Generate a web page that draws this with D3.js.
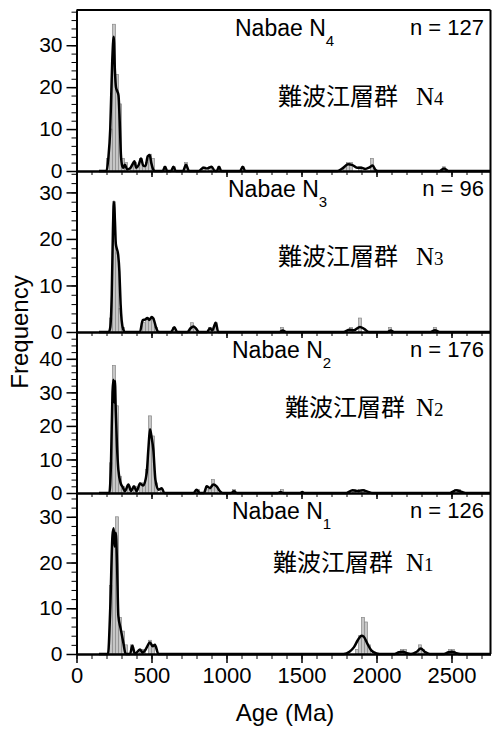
<!DOCTYPE html>
<html>
  <head>
    <meta charset="utf-8">
    <title>Nabae detrital zircon ages</title>
    <script src="https://d3js.org/d3.v7.min.js"></script>
    <style>
      body { margin: 0; background: #fff; }
      text { font-family: "Liberation Sans", Arial, sans-serif; fill: #000; }
      .cjk { font-family: "Noto Sans CJK JP", sans-serif; }
      .serif { font-family: "Liberation Serif", "Times New Roman", serif; }
    </style>
  </head>
  <body>
    <div id="chart"></div>
    <script>
    // ---- data ----
    const subscripts = ["4", "3", "2", "1"];
    const nValues = [127, 96, 176, 126];
    const yMaxes = [38.4, 34.6, 48, 35.2];
    const yTickValues = [[0, 10, 20, 30], [0, 10, 20, 30], [0, 10, 20, 30, 40], [0, 10, 20, 30]];
    const xTickValues = [0, 500, 1000, 1500, 2000, 2500];
    const binWidth = 20;

    // histogram bins: [bin start (Ma), count]
    const histN4 = [[200,3],[220,10],[240,35],[260,23],[280,16],[300,3],[320,2],[360,1],[380,2],[400,1],
      [420,3],[440,1],[460,2],[480,4],[500,3],[580,1],[640,1],[720,2],[840,1],[880,1],[940,1],[1100,1],
      [1780,1],[1800,2],[1820,2],[1880,1],[1960,3],[2440,1]];
    const histN3 = [[220,3],[240,28],[260,17],[280,5],[300,1],[440,2],[460,3],[480,3],[500,3],[520,1],
      [640,1],[760,2],[780,1],[880,1],[920,2],[1360,1],[1820,1],[1880,3],[2080,1],[2380,1]];
    const histN2 = [[220,9],[240,38],[260,26],[280,5],[300,2],[340,2],[380,2],[420,3],[440,3],[460,7],
      [480,23],[500,17],[520,3],[560,1],[800,1],[860,2],[880,1],[900,4],[920,2],[1040,1],[1360,1],
      [1840,1],[1880,1],[1900,1],[2520,1],[2540,1]];
    const histN1 = [[220,15],[240,27],[260,30],[280,8],[300,5],[320,2],[360,2],[420,1],[440,1],[480,3],
      [500,2],[1860,1],[1880,4],[1900,8],[1920,7],[1940,2],[2160,1],[2180,1],[2280,2],[2300,1],
      [2480,1],[2500,1]];

    // probability density curves: [age (Ma), value]
    const curveN4 = [[150,0],[200,0],[212,3],[225,10],[238,26],[248,32],[256,24],[263,20],[272,19],[280,18],
      [288,12],[296,4],[305,1.2],[313,0.8],[323,1.5],[338,0.4],[355,0.6],[372,1.5],[386,2.3],[398,0.8],
      [415,1.5],[430,3],[445,1.3],[460,1.2],[475,3.5],[488,3.8],[498,2],[510,0.5],[523,0],[575,0],
      [590,1],[605,0],[630,0],[646,1],[662,0],[710,0],[730,1.5],[750,0],[815,0],[846,0.8],[870,0.6],
      [901,1],[920,0.1],[935,0],[950,1],[965,0],[1090,0],[1108,1],[1125,0],[1740,0],[1780,0.8],
      [1810,1.6],[1840,1.4],[1870,0.8],[1900,0.8],[1925,0.5],[1950,0.8],[1975,1.3],[1992,0.3],[2010,0],
      [2420,0],[2450,0.6],[2480,0],[2760,0]];
    const curveN3 = [[150,0],[215,0],[225,1],[235,8],[243,22],[250,28],[256,24],[262,19],[268,18],[278,16.5],
      [286,13],[294,6],[301,2.5],[312,0.5],[323,0],[423,0],[441,2.5],[459,2.7],[472,3],[486,2.6],
      [501,3.2],[517,2.5],[530,1],[546,0],[630,0],[652,1],[672,0],[740,0],[760,0.8],[780,1.2],[800,0.6],
      [815,0],[870,0],[890,0.8],[905,0.3],[928,2],[945,0],[1350,0],[1375,0.3],[1400,0],[1780,0],
      [1820,0.5],[1850,0.4],[1890,1.1],[1920,0.6],[1950,0],[2070,0],[2095,0.3],[2120,0],[2360,0],
      [2390,0.4],[2420,0],[2760,0]];
    const curveN2 = [[150,0],[219,0],[230,9],[240,30],[246,33.8],[251,27],[256,33.5],[262,24],[270,14],[279,7],
      [294,3],[308,1.8],[323,0.5],[346,2.5],[363,0.6],[383,2],[401,0.5],[423,2.8],[445,2.2],[468,6],
      [479,13],[490,19],[501,16.5],[512,13],[526,4],[546,1],[568,1.4],[586,0],[780,0],[800,1],[823,0],
      [850,0],[868,2],[890,1.5],[912,2.5],[934,2],[957,0.5],[975,0],[1030,0],[1050,0.5],[1070,0],
      [1340,0],[1360,0.3],[1380,0],[1490,0],[1505,0.3],[1520,0],[1800,0],[1840,0.8],[1880,0.6],
      [1910,0.8],[1940,0.4],[1970,0],[2490,0],[2530,0.8],[2570,0.3],[2600,0],[2760,0]];
    const curveN1 = [[150,0],[210,0],[225,10],[240,26],[248,27.5],[254,23.5],[262,26.5],[270,20],[279,8.4],
      [294,5.6],[312,2.5],[328,0],[357,0],[372,1.8],[390,0],[423,1],[441,0.3],[461,1],[490,2.5],
      [508,1.7],[523,2],[546,0],[1780,0],[1820,0.5],[1850,1.5],[1875,3],[1900,4],[1915,3.8],[1940,2.2],
      [1965,0.8],[2000,0.1],[2020,0],[2120,0],[2150,0.4],[2175,0.5],[2200,0.2],[2230,0],[2265,0.4],
      [2295,1.2],[2325,0.4],[2355,0],[2450,0],[2480,0.4],[2505,0.5],[2530,0.2],[2560,0],[2760,0]];

    const histograms = [histN4, histN3, histN2, histN1];
    const curves = [curveN4, curveN3, curveN2, curveN1];

    // ---- layout ----
    const width = 496, height = 730;
    const plotTop = 10, panelH = 161;
    const nabaeX = [235, 228, 232, 232];
    const cjkX = [278, 278, 285, 273];
    const serifNX = [416, 416, 416, 406];
    const cjkDy = [95, 94, 84, 78];

    const svg = d3.select("#chart")
      .append("svg")
      .attr("width", width)
      .attr("height", height);

    const x = d3.scaleLinear()
      .domain([0, 2760])
      .range([76.5, 490.5]);

    subscripts.forEach((sub, i) => {
      const top = plotTop + i * panelH;
      const bottom = top + panelH;
      const last = i === subscripts.length - 1;

      const y = d3.scaleLinear()
        .domain([0, yMaxes[i]])
        .range([bottom, top]);

      const g = svg.append("g");

      // histogram bars
      g.selectAll("rect.bar")
        .data(histograms[i])
        .join("rect")
        .attr("class", "bar")
        .attr("x", d => x(d[0]))
        .attr("width", d => x(d[0] + binWidth) - x(d[0]))
        .attr("y", d => y(d[1]))
        .attr("height", d => y(0) - y(d[1]))
        .attr("fill", "#c6c6c6")
        .attr("stroke", "#888")
        .attr("stroke-width", 0.7);

      // density curve
      const line = d3.line()
        .x(d => x(d[0]))
        .y(d => y(d[1]))
        .curve(d3.curveMonotoneX);

      g.append("path")
        .datum(curves[i])
        .attr("d", line)
        .attr("fill", "none")
        .attr("stroke", "#000")
        .attr("stroke-width", 2.5)
        .attr("stroke-linejoin", "round");

      // x axis: minor then major ticks
      g.append("g")
        .attr("transform", `translate(0,${bottom})`)
        .call(d3.axisBottom(x).tickValues(d3.range(0, 2800, 100)).tickSize(last ? 5 : 4).tickSizeOuter(0).tickFormat(""))
        .call(ax => ax.select(".domain").attr("stroke-width", 2));

      const xa = g.append("g")
        .attr("transform", `translate(0,${bottom})`)
        .call(d3.axisBottom(x).tickValues(xTickValues).tickSize(last ? 9 : 6).tickSizeOuter(0)
          .tickPadding(4).tickFormat(last ? d3.format("d") : ""));
      xa.select(".domain").attr("stroke-width", 2);
      xa.selectAll("line").attr("stroke-width", 1.5);
      xa.selectAll("text").style("font-size", "22px").attr("font-family", null);

      // y axis: minor then major ticks
      g.append("g")
        .attr("transform", "translate(76.5,0)")
        .call(d3.axisLeft(y).tickValues(d3.range(0, yMaxes[i], 2)).tickSize(5).tickSizeOuter(0).tickFormat(""))
        .call(ax => ax.select(".domain").attr("stroke-width", 2));

      const ya = g.append("g")
        .attr("transform", "translate(76.5,0)")
        .call(d3.axisLeft(y).tickValues(yTickValues[i]).tickSize(10).tickSizeOuter(0).tickPadding(4));
      ya.select(".domain").attr("stroke-width", 2);
      ya.selectAll("line").attr("stroke-width", 1.5);
      ya.selectAll("text").style("font-size", "21px").attr("font-family", null);

      // labels
      const t = g.append("text")
        .attr("x", nabaeX[i])
        .attr("y", top + 26)
        .style("font-size", "23px")
        .text("Nabae N");
      t.append("tspan")
        .attr("dy", 10)
        .style("font-size", "15px")
        .text(sub);

      g.append("text")
        .attr("x", 484)
        .attr("y", top + 25)
        .attr("text-anchor", "end")
        .style("font-size", "22px")
        .text("n = " + nValues[i]);

      g.append("text")
        .attr("class", "cjk")
        .attr("x", cjkX[i])
        .attr("y", top + cjkDy[i])
        .style("font-size", "24px")
        .text("難波江層群");

      const s = g.append("text")
        .attr("class", "serif")
        .attr("x", serifNX[i])
        .attr("y", top + cjkDy[i])
        .style("font-size", "25px")
        .text("N");
      s.append("tspan")
        .style("font-size", "19px")
        .text(sub);
    });

    // top and right frame
    const plotBottom = plotTop + panelH * subscripts.length;
    svg.append("line")
      .attr("x1", 76.5).attr("x2", 490.5)
      .attr("y1", plotTop).attr("y2", plotTop)
      .attr("stroke", "#000").attr("stroke-width", 2);
    svg.append("line")
      .attr("x1", 490.5).attr("x2", 490.5)
      .attr("y1", plotTop).attr("y2", plotBottom)
      .attr("stroke", "#000").attr("stroke-width", 2);

    // axis titles
    svg.append("text")
      .attr("text-anchor", "middle")
      .attr("transform", `translate(28,${(plotTop + plotBottom) / 2}) rotate(-90)`)
      .style("font-size", "24px")
      .text("Frequency");

    svg.append("text")
      .attr("text-anchor", "middle")
      .attr("x", 285)
      .attr("y", 721)
      .style("font-size", "24px")
      .text("Age (Ma)");
    </script>
  </body>
</html>
